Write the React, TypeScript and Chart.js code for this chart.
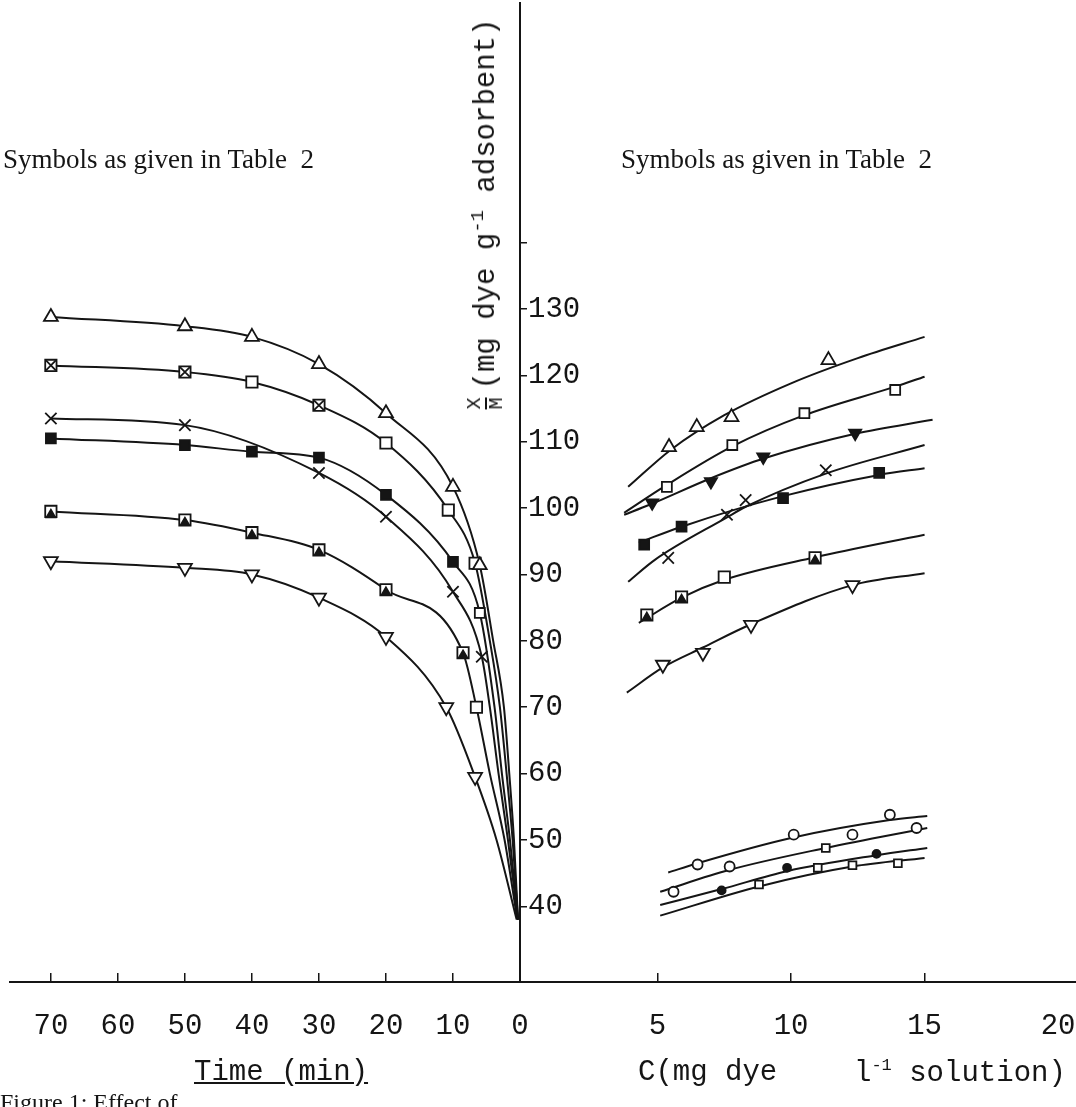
import React, { useEffect, useRef } from "react";
import { Chart, registerables } from "chart.js";

Chart.register(...registerables);

// ---------- tick labels ----------
const timeTicks = [70, 60, 50, 40, 30, 20, 10, 0];
const concTicks = [5, 10, 15, 20];
const yTicks = [40, 50, 60, 70, 80, 90, 100, 110, 120, 130, 140];

// ---------- left panel (time, min) : fitted curves [t, X/M] ----------
const timeCurveTriUp: [number, number][] = [[70, 128.8], [50, 127.4], [40, 125.8], [30, 121.7], [20, 114.3], [10, 103.2], [6, 91.4], [4, 80], [2.4, 70], [1.6, 60], [0.9, 50], [0.3, 38]];
const timeCurveSquareX: [number, number][] = [[70, 121.5], [50, 120.5], [40, 119], [30, 115.5], [20, 109.8], [10.7, 99.7], [6.7, 91.7], [4.5, 80], [3, 70], [2, 60], [1.1, 50], [0.3, 38]];
const timeCurveCross: [number, number][] = [[70, 113.5], [50, 112.5], [30, 105.3], [20, 98.7], [10, 87.4], [5.7, 77.6], [4.5, 70], [3.2, 60], [1.8, 50], [0.3, 38]];
const timeCurveSquareFilled: [number, number][] = [[70, 110.5], [50, 109.5], [40, 108.5], [30, 107.6], [20, 102], [10, 91.9], [6, 84.2], [3.8, 70], [2.7, 60], [1.5, 50], [0.3, 38]];
const timeCurveSquareTri: [number, number][] = [[70, 99.5], [50, 98.2], [40, 96.3], [30, 93.7], [20, 87.7], [8.5, 78.2], [6.5, 70], [4.5, 60], [2.3, 50], [0.4, 38]];
const timeCurveTriDown: [number, number][] = [[70, 92], [50, 91], [40, 90], [30, 86.5], [20, 80.6], [11, 70], [6.7, 59.5], [3.5, 50], [0.5, 38]];

// ---------- left panel : measured points ----------
const timeTriUp: [number, number][] = [[70, 128.8], [50, 127.4], [40, 125.8], [30, 121.7], [20, 114.3], [10, 103.2], [6, 91.4]];
const timeSquare: [number, number][] = [[70, 121.5], [50, 120.5], [40, 119], [30, 115.5], [20, 109.8], [10.7, 99.7], [6.7, 91.7]];
const timeSquareCross: [number, number][] = [[70, 121.5], [50, 120.5], [30, 115.5]];
const timeCross: [number, number][] = [[70, 113.5], [50, 112.5], [30, 105.3], [20, 98.7], [10, 87.4], [5.7, 77.6]];
const timeSquareFilled: [number, number][] = [[70, 110.5], [50, 109.5], [40, 108.5], [30, 107.6], [20, 102], [10, 91.9]];
const timeSquareOpen2: [number, number][] = [[6, 84.2]];
const timeSquareB: [number, number][] = [[70, 99.5], [50, 98.2], [40, 96.3], [30, 93.7], [20, 87.7], [8.5, 78.2], [6.5, 70]];
const timeTriFilled: [number, number][] = [[70, 99.0], [50, 97.8], [40, 95.9], [30, 93.3], [20, 87.3], [8.5, 77.8]];
const timeTriDown: [number, number][] = [[70, 92], [50, 91], [40, 90], [30, 86.5], [20, 80.6], [11, 70], [6.7, 59.5]];

// ---------- right panel (C, mg dye / l) : fitted curves [C, X/M] ----------
const concCurveTriUp: [number, number][] = [[3.9, 103.2], [5.5, 108.8], [7.5, 114], [10, 118.8], [12.5, 122.6], [15, 125.8]];
const concCurveSquareX: [number, number][] = [[3.75, 99.3], [5.35, 103.5], [7.8, 109.3], [10.5, 114.0], [13.9, 118.3], [15, 119.8]];
const concCurveTriDownFilled: [number, number][] = [[3.75, 99.0], [4.7, 100.5], [7, 104.5], [9, 107.5], [12.4, 111.2], [15.3, 113.3]];
const concCurveCross: [number, number][] = [[3.9, 88.9], [4.9, 92.2], [7.6, 98.6], [8.3, 100.2], [11.3, 105.2], [15, 109.5]];
const concCurveSquareFilled: [number, number][] = [[4.3, 94.8], [5.9, 97.2], [9.7, 101.8], [13.3, 105], [15, 106]];
const concCurveSquare: [number, number][] = [[4.3, 82.7], [5.9, 86.5], [7.5, 89.2], [10.9, 92.6], [15, 96]];
const concCurveTriDown: [number, number][] = [[3.85, 72.2], [5.2, 76], [6.7, 79], [8.5, 82.5], [12.3, 88.4], [15, 90.2]];
const concCurveCircle: [number, number][] = [[5.4, 45.1], [6.5, 46.5], [10, 50.3], [13.7, 53.0], [15.1, 53.6]];
const concCurveCircleSlash: [number, number][] = [[5.1, 42.2], [7.7, 45.5], [11.3, 48.8], [15.1, 51.8]];
const concCurveDot: [number, number][] = [[5.1, 40.2], [7.4, 42.6], [9.85, 45.3], [13.2, 47.7], [15.1, 48.8]];
const concCurveSmallSquare: [number, number][] = [[5.1, 38.6], [8.8, 43.0], [12.3, 46.0], [15, 47.3]];

// ---------- right panel : measured points ----------
const concTriUp: [number, number][] = [[5.43, 109.2], [6.47, 112.2], [7.77, 113.7], [11.4, 122.3]];
const concSquareX: [number, number][] = [[5.35, 103.2], [7.8, 109.5], [10.5, 114.3], [13.9, 117.8]];
const concTriDownFilled: [number, number][] = [[4.8, 100.8], [7.0, 104], [8.96, 107.7], [12.4, 111.3]];
const concCross: [number, number][] = [[5.4, 92.5], [7.6, 99], [8.3, 101.2], [11.3, 105.7]];
const concSquareFilled: [number, number][] = [[4.5, 94.5], [5.9, 97.2], [9.7, 101.5], [13.3, 105.3]];
const concSquare: [number, number][] = [[4.6, 83.9], [5.9, 86.6], [7.5, 89.6], [10.9, 92.5]];
const concTriFilled: [number, number][] = [[4.6, 83.5], [5.9, 86.2], [10.9, 92.1]];
const concTriDown: [number, number][] = [[5.2, 76.4], [6.7, 78.2], [8.5, 82.4], [12.3, 88.4]];
const concCircle: [number, number][] = [[6.5, 46.3], [10.1, 50.8], [13.7, 53.8]];
const concCircleSlash: [number, number][] = [[5.6, 42.2], [7.7, 46], [12.3, 50.8], [14.7, 51.8]];
const concDot: [number, number][] = [[7.4, 42.4], [9.85, 45.8], [13.2, 47.9]];
const concSmallSquare: [number, number][] = [[8.8, 43.3], [11.3, 48.8], [11, 45.8], [12.3, 46.2], [14, 46.5]];

// ---------- layout (pixels) ----------
const INK = "#151515";
const Y_MIN = 28.6;
const Y_MAX = 176.1;
const AXIS_X = 520;
const BOTTOM_H = 125;
const MONO = "'Liberation Mono', 'DejaVu Sans Mono', monospace";
const SERIF = "'Liberation Serif', 'DejaVu Serif', serif";

const toXY = (arr: [number, number][]) => arr.map(([x, y]) => ({ x, y }));

const curve = (arr: [number, number][]) => ({
  data: toXY(arr),
  showLine: true,
  borderColor: INK,
  borderWidth: 2,
  pointRadius: 0,
  cubicInterpolationMode: "monotone" as const,
  order: 2,
});

const marks = (arr: [number, number][], style: string, filled: boolean, radius = 7, rotation = 0) => ({
  data: toXY(arr),
  showLine: false,
  pointStyle: style,
  pointRadius: radius,
  pointRotation: rotation,
  pointBorderWidth: 1.8,
  borderColor: INK,
  pointBorderColor: INK,
  pointBackgroundColor: filled ? INK : "#ffffff",
  backgroundColor: filled ? INK : "#ffffff",
  order: 0,
});

const tickFont = { family: MONO, size: 29 };

const fitBottom = (s: any) => {
  s.height = BOTTOM_H;
  s.paddingLeft = 0;
  s.paddingRight = 0;
};

export default function App() {
  const leftRef = useRef<HTMLCanvasElement | null>(null);
  const rightRef = useRef<HTMLCanvasElement | null>(null);

  useEffect(() => {
    document.body.style.margin = "0";
    const left = new Chart(leftRef.current as HTMLCanvasElement, {
      type: "scatter",
      data: {
        datasets: [
          marks(timeTriUp, "triangle", false, 8),
          marks(timeSquareCross, "crossRot", false, 7),
          marks(timeSquare, "rect", false, 8),
          marks(timeCross, "crossRot", false, 8),
          marks(timeSquareFilled, "rect", true, 7),
          marks(timeSquareOpen2, "rect", false, 7),
          marks(timeTriFilled, "triangle", true, 5),
          marks(timeSquareB, "rect", false, 8),
          marks(timeTriDown, "triangle", false, 8, 180),
          curve(timeCurveTriUp),
          curve(timeCurveSquareX),
          curve(timeCurveCross),
          curve(timeCurveSquareFilled),
          curve(timeCurveSquareTri),
          curve(timeCurveTriDown),
        ] as any,
      },
      options: {
        animation: false,
        responsive: false,
        devicePixelRatio: 1,
        layout: { autoPadding: false, padding: { left: 10, right: 0, top: 3, bottom: 0 } },
        plugins: { legend: { display: false }, tooltip: { enabled: false } },
        scales: {
          x: {
            type: "linear",
            reverse: true,
            min: 0,
            max: 76.1,
            afterBuildTicks: (s: any) => {
              s.ticks = timeTicks.map((v) => ({ value: v }));
            },
            afterFit: fitBottom,
            grid: { drawOnChartArea: false, tickLength: -9, color: INK, lineWidth: 1.5 },
            border: { color: INK, width: 2 },
            ticks: { font: tickFont, color: INK, padding: 36, maxRotation: 0, autoSkip: false },
          },
          y: {
            type: "linear",
            position: "right",
            min: Y_MIN,
            max: Y_MAX,
            afterBuildTicks: (s: any) => {
              s.ticks = yTicks.map((v) => ({ value: v }));
            },
            afterFit: (s: any) => {
              s.width = 120;
              s.paddingTop = 0;
              s.paddingBottom = 0;
            },
            grid: { drawOnChartArea: false, tickLength: 7, color: INK, lineWidth: 1.5 },
            border: { color: INK, width: 2 },
            ticks: {
              font: tickFont,
              color: INK,
              padding: 1,
              autoSkip: false,
              callback: (v: any) => (v === 140 ? "" : String(v)),
            },
          },
        },
      } as any,
    });

    const right = new Chart(rightRef.current as HTMLCanvasElement, {
      type: "scatter",
      data: {
        datasets: [
          marks(concTriUp, "triangle", false, 8),
          marks(concSquareX, "rect", false, 7),
          marks(concSquareX, "crossRot", false, 6),
          marks(concTriDownFilled, "triangle", true, 7, 180),
          marks(concCross, "crossRot", false, 8),
          marks(concSquareFilled, "rect", true, 7),
          marks(concTriFilled, "triangle", true, 5),
          marks(concSquare, "rect", false, 8),
          marks(concTriDown, "triangle", false, 8, 180),
          marks(concCircle, "circle", false, 5),
          marks(concCircleSlash, "circle", false, 5),
          marks(concCircleSlash, "line", false, 5, 60),
          marks(concDot, "circle", true, 4),
          marks(concSmallSquare, "rect", false, 5.5),
          curve(concCurveTriUp),
          curve(concCurveSquareX),
          curve(concCurveTriDownFilled),
          curve(concCurveCross),
          curve(concCurveSquareFilled),
          curve(concCurveSquare),
          curve(concCurveTriDown),
          curve(concCurveCircle),
          curve(concCurveCircleSlash),
          curve(concCurveDot),
          curve(concCurveSmallSquare),
        ] as any,
      },
      options: {
        animation: false,
        responsive: false,
        devicePixelRatio: 1,
        layout: { autoPadding: false, padding: { left: 0, right: 0, top: 3, bottom: 0 } },
        plugins: { legend: { display: false }, tooltip: { enabled: false } },
        scales: {
          x: {
            type: "linear",
            min: -0.15,
            max: 20.67,
            afterBuildTicks: (s: any) => {
              s.ticks = concTicks.map((v) => ({ value: v }));
            },
            afterFit: fitBottom,
            grid: {
              drawOnChartArea: false,
              tickLength: -9,
              lineWidth: 1.5,
              color: (ctx: any) => (ctx.tick && ctx.tick.value === 20 ? "rgba(0,0,0,0)" : INK),
            },
            border: { color: INK, width: 2 },
            ticks: { font: tickFont, color: INK, padding: 36, maxRotation: 0, autoSkip: false },
          },
          y: { type: "linear", display: false, min: Y_MIN, max: Y_MAX },
        },
      } as any,
    });

    return () => {
      left.destroy();
      right.destroy();
    };
  }, []);

  const abs = (extra: React.CSSProperties): React.CSSProperties => ({
    position: "absolute",
    whiteSpace: "pre",
    color: INK,
    lineHeight: 1.2,
    ...extra,
  });

  return (
    <div
      style={{
        position: "absolute",
        left: 0,
        top: 0,
        width: 1076,
        height: 1107,
        overflow: "hidden",
        background: "#ffffff",
      }}
    >
      <canvas ref={leftRef} width={640} height={1107} style={{ position: "absolute", left: 0, top: 0 }} />
      <canvas ref={rightRef} width={1076 - AXIS_X} height={1107} style={{ position: "absolute", left: AXIS_X, top: 0 }} />

      <div style={abs({ left: 3, top: 143, fontFamily: SERIF, fontSize: 27 })}>Symbols as given in Table  2</div>
      <div style={abs({ left: 621, top: 143, fontFamily: SERIF, fontSize: 27 })}>Symbols as given in Table  2</div>

      <div
        style={abs({
          left: 486,
          top: 214,
          fontFamily: MONO,
          fontSize: 29,
          transform: "translate(-50%, -50%) rotate(-90deg)",
          display: "flex",
          alignItems: "center",
        })}
      >
        <span
          style={{
            display: "inline-flex",
            flexDirection: "column",
            alignItems: "center",
            fontSize: 20,
            lineHeight: 1,
            marginRight: 8,
          }}
        >
          <span>X</span>
          <span style={{ borderTop: `2px solid ${INK}` }}>M</span>
        </span>
        <span>
          (mg dye g<sup style={{ fontSize: 19 }}>-1</sup> adsorbent)
        </span>
      </div>

      <div style={abs({ left: 194, top: 1056, fontFamily: MONO, fontSize: 29, textDecoration: "underline" })}>Time (min)</div>
      <div style={abs({ left: 638, top: 1056, fontFamily: MONO, fontSize: 29 })}>C(mg dye</div>
      <div style={abs({ left: 854, top: 1056, fontFamily: MONO, fontSize: 29 })}>
        l<sup style={{ fontSize: 17 }}>-1</sup> solution)
      </div>
      <div style={abs({ left: 0, top: 1088, fontFamily: SERIF, fontSize: 24 })}>Figure 1: Effect of</div>
    </div>
  );
}
